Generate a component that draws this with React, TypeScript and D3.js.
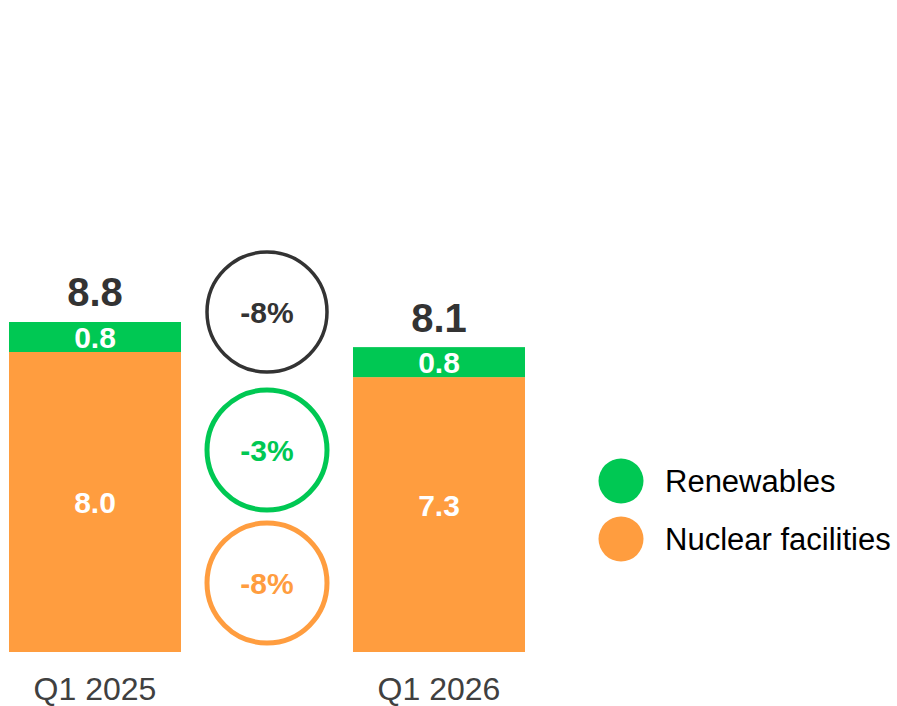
import React from "react";
import * as d3 from "d3";

const categories = ["Q1 2025", "Q1 2026"];
const nuclear = [8.0, 7.33];
const renewables = [0.8, 0.8];
const totals = [8.8, 8.1];
const changeLabels = ["-8%", "-3%", "-8%"];
const seriesNames = ["Renewables", "Nuclear facilities"];

const W = 897;
const H = 706;
const GREEN = "#00C853";
const ORANGE = "#FF9D3F";
const DARK = "#333333";
const FONT = "'Liberation Sans', Arial, sans-serif";

export default function App() {
  const x = d3.scaleBand<string>().domain(categories).range([9, 525]).paddingInner(0.5).paddingOuter(0);
  const y = d3.scaleLinear().domain([0, 8.8]).range([652, 322]);

  const rows = categories.map((c, i) => ({ cat: c, nuclear: nuclear[i], renewables: renewables[i] }));
  const stack = d3.stack<any>().keys(["nuclear", "renewables"])(rows);
  const colors: Record<string, string> = { nuclear: ORANGE, renewables: GREEN };

  const bw = x.bandwidth();
  const midX = ((x(categories[0]) as number) + bw + (x(categories[1]) as number)) / 2;
  const circleYs = [312, 450, 583];
  const circleColors = [DARK, GREEN, ORANGE];
  const circleStroke = [3.5, 5, 5];

  return (
    <svg width={W} height={H} style={{ position: "absolute", left: 0, top: 0, background: "#fff" }} fontFamily={FONT}>
      {stack.map((layer) => (
        <g key={layer.key}>
          {layer.map((d, i) => {
            const x0 = x(categories[i]) as number;
            const top = y(d[1]);
            const bot = y(d[0]);
            const ly = layer.key === "nuclear" ? Math.min((top + bot) / 2, y(3.92)) : (top + bot) / 2;
            return (
              <g key={i}>
                <rect x={x0} y={top} width={bw} height={bot - top} fill={colors[layer.key]} />
                <text
                  x={x0 + bw / 2}
                  y={ly}
                  dy="0.36em"
                  textAnchor="middle"
                  fill="#fff"
                  fontWeight="bold"
                  fontSize={30}
                >
                  {(Math.round((d[1] - d[0]) * 10) / 10).toFixed(1)}
                </text>
              </g>
            );
          })}
        </g>
      ))}
      {categories.map((c, i) => (
        <g key={c}>
          <text
            x={(x(c) as number) + bw / 2}
            y={y(totals[i]) - 16}
            textAnchor="middle"
            fill={DARK}
            fontWeight="bold"
            fontSize={40}
          >
            {totals[i].toFixed(1)}
          </text>
          <text x={(x(c) as number) + bw / 2} y={700} textAnchor="middle" fill="#404040" fontSize={32}>
            {c}
          </text>
        </g>
      ))}
      {changeLabels.map((lab, i) => (
        <g key={i}>
          <circle cx={midX} cy={circleYs[i]} r={60} fill="none" stroke={circleColors[i]} strokeWidth={circleStroke[i]} />
          <text x={midX} y={circleYs[i]} dy="0.36em" textAnchor="middle" fill={circleColors[i]} fontWeight="bold" fontSize={30}>
            {lab}
          </text>
        </g>
      ))}
      {seriesNames.map((s, i) => (
        <g key={s}>
          <circle cx={621} cy={481 + i * 58} r={22.5} fill={i === 0 ? GREEN : ORANGE} />
          <text x={665} y={481 + i * 58} dy="0.36em" fill="#000" fontSize={31}>
            {s}
          </text>
        </g>
      ))}
    </svg>
  );
}
